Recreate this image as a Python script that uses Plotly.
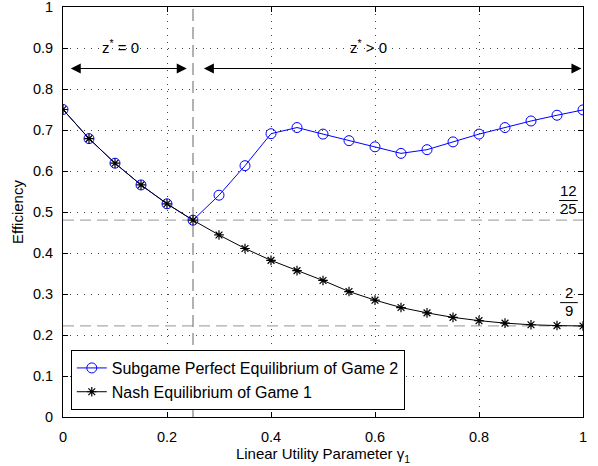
import plotly.graph_objects as go

gamma = [0.0, 0.05, 0.1, 0.15, 0.2, 0.25, 0.3, 0.35, 0.4, 0.45, 0.5,
         0.55, 0.6, 0.65, 0.7, 0.75, 0.8, 0.85, 0.9, 0.95, 1.0]
spe_game2 = [0.75, 0.679, 0.619, 0.566, 0.520, 0.480, 0.541, 0.613, 0.691, 0.706, 0.690,
             0.674, 0.659, 0.643, 0.652, 0.671, 0.690, 0.706, 0.722, 0.736, 0.749]
ne_game1 = [0.75, 0.679, 0.619, 0.566, 0.520, 0.480, 0.444, 0.411, 0.382, 0.357, 0.333,
            0.306, 0.285, 0.267, 0.254, 0.243, 0.235, 0.229, 0.225, 0.223, 0.222]
x_ticks = [0, 0.2, 0.4, 0.6, 0.8, 1]
x_tick_labels = ["0", "0.2", "0.4", "0.6", "0.8", "1"]
y_ticks = [i / 10 for i in range(11)]
y_tick_labels = ["0", "0.1", "0.2", "0.3", "0.4", "0.5", "0.6", "0.7", "0.8", "0.9", "1"]
ref_levels = [12 / 25, 2 / 9]
gamma_split = 0.25

FONT = "Liberation Sans, Arial, sans-serif"

fig = go.Figure()
fig.add_trace(go.Scatter(
    x=gamma, y=spe_game2, mode="lines+markers",
    name="Subgame Perfect Equilibrium of Game 2",
    line=dict(color="#0000ff", width=1),
    marker=dict(symbol="circle-open", size=10, color="#0000ff", line=dict(width=1)),
))
fig.add_trace(go.Scatter(
    x=gamma, y=ne_game1, mode="lines+markers",
    name="Nash Equilibrium of Game 1",
    line=dict(color="black", width=1),
    marker=dict(symbol="asterisk-open", size=8, color="black", line=dict(width=1.2, color="black")),
))

# reference lines
for yv in ref_levels:
    fig.add_shape(type="line", x0=0, x1=1, y0=yv, y1=yv, xref="x", yref="y",
                  line=dict(color="#aaaaaa", width=1.2, dash="11px,6px"), layer="below")
fig.add_shape(type="line", x0=gamma_split, x1=gamma_split, y0=0, y1=1, xref="x", yref="y",
              line=dict(color="#808080", width=1.2, dash="12px,6px"), layer="below")

# arrows
def arrow(x0, x1, y):
    fig.add_annotation(x=x1, y=y, ax=x0, ay=y, xref="x", yref="y", axref="x", ayref="y",
                       text="", showarrow=True, arrowhead=2, arrowside="end+start",
                       arrowsize=2, arrowwidth=1, arrowcolor="black")

arrow(0.012, 0.238, 0.85)
arrow(0.268, 0.997, 0.85)

fig.add_annotation(x=0.11, y=0.903, xref="x", yref="y", showarrow=False,
                   text="z<sup>*</sup> = 0", font=dict(family=FONT, size=15, color="black"))
fig.add_annotation(x=0.588, y=0.903, xref="x", yref="y", showarrow=False,
                   text="z<sup>*</sup> > 0", font=dict(family=FONT, size=15, color="black"))

# fractions
def frac(num, den, x, y, w):
    fig.add_annotation(x=x, y=y + 0.025, xref="x", yref="y", showarrow=False,
                       text=num, font=dict(family=FONT, size=15, color="black"))
    fig.add_annotation(x=x, y=y - 0.019, xref="x", yref="y", showarrow=False,
                       text=den, font=dict(family=FONT, size=15, color="black"))
    fig.add_shape(type="line", x0=x - w, x1=x + w, y0=y, y1=y, xref="x", yref="y",
                  line=dict(color="black", width=1))

frac("12", "25", 0.972, 0.528, 0.018)
frac("2", "9", 0.973, 0.279, 0.017)

axis_common = dict(
    showline=True, linecolor="black", linewidth=1, mirror="ticks",
    ticks="inside", ticklen=5, tickcolor="black", tickwidth=1,
    showgrid=True, gridcolor="#444444", gridwidth=1, griddash="1px,6px",
    zeroline=False, tickfont=dict(family=FONT, size=14.5, color="black"),
    ticklabeloverflow="allow",
)

fig.update_xaxes(range=[0, 1], tickvals=x_ticks, ticktext=x_tick_labels,
                 ticklabelstandoff=7,
                 title=dict(text="Linear Utility Parameter γ<sub>1</sub>",
                            font=dict(family=FONT, size=15, color="black"), standoff=1),
                 **axis_common)
fig.update_yaxes(range=[0, 1], tickvals=y_ticks, ticktext=y_tick_labels,
                 ticklabelstandoff=6,
                 title=dict(text="Efficiency", font=dict(family=FONT, size=15, color="black"),
                            standoff=5),
                 **axis_common)

fig.update_layout(
    width=598, height=466,
    margin=dict(l=63, r=15, t=7, b=49, autoexpand=False),
    plot_bgcolor="white", paper_bgcolor="white",
    font=dict(family=FONT, size=14, color="black"),
    legend=dict(x=0.015, y=0.017, xanchor="left", yanchor="bottom",
                bgcolor="white", bordercolor="black", borderwidth=1,
                font=dict(family=FONT, size=16, color="black"),
                tracegroupgap=0),
    showlegend=True,
)

fig.write_html("out.html", config={"displayModeBar": False},
               post_script="document.body.style.margin='0';document.body.style.overflow='hidden';")
